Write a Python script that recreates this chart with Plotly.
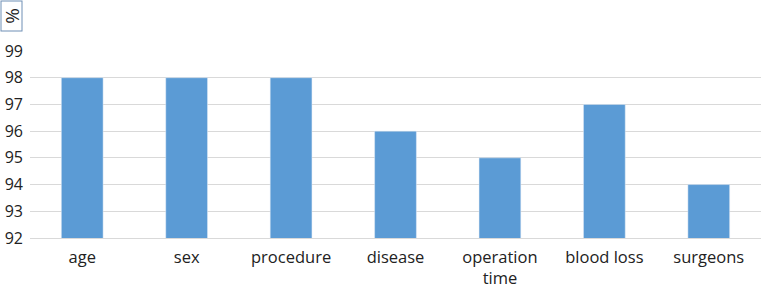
import plotly.graph_objects as go

categories = ["age", "sex", "procedure", "disease", "operation<br>time", "blood loss", "surgeons"]
values = [98, 98, 98, 96, 95, 97, 94]
y_ticks = [92, 93, 94, 95, 96, 97, 98, 99]

fig = go.Figure(go.Bar(x=categories, y=values, marker_color="#5b9bd5"))

fig.update_layout(
    width=762, height=290,
    margin=dict(l=30, r=1, t=51, b=52, autoexpand=False),
    plot_bgcolor="white", paper_bgcolor="white",
    bargap=0.6,
    font=dict(family="Open Sans, Lato, sans-serif", size=17, color="#222222"),
    showlegend=False,
)
fig.update_yaxes(range=[92, 99], tickvals=y_ticks, showgrid=True, gridcolor="#d9d9d9",
                 gridwidth=1, zeroline=False, showline=False, ticks="", automargin=False,
                 tickfont=dict(size=16), ticklabelstandoff=6)
fig.update_xaxes(showline=True, linecolor="#d9d9d9", linewidth=1, ticks="", automargin=False,
                 tickfont=dict(size=16.5), ticklabelstandoff=4)

fig.add_annotation(text="%", textangle=-90, xref="paper", yref="paper", x=-30/731, y=1 + 50/187,
                   xanchor="left", yanchor="top", showarrow=False, bordercolor="#6f8fb5",
                   width=29, height=20, borderwidth=1, borderpad=0,
                   font=dict(size=19, color="#222222"), bgcolor="white")

fig.write_html("out.html", config={"displayModeBar": False},
               post_script="document.body.style.margin='0';")
